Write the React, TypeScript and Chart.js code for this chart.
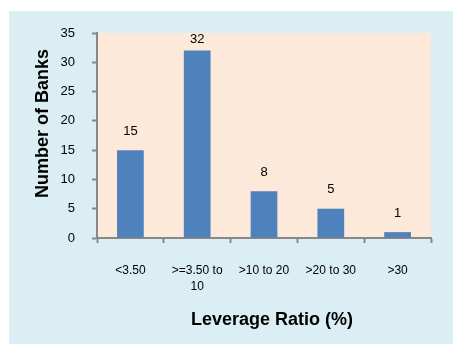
import React, { useEffect, useRef } from "react";
import { Chart, registerables } from "chart.js";

Chart.register(...registerables);

const categories: (string | string[])[] = ["<3.50", [">=3.50 to", "10"], ">10 to 20", ">20 to 30", ">30"];
const banks: number[] = [15, 32, 8, 5, 1];
const yTitle = "Number of Banks";
const xTitle = "Leverage Ratio (%)";
const yMax = 35;
const yStep = 5;

const FONT = "'Liberation Sans', Arial, sans-serif";

const decorPlugin = {
  id: "decor",
  beforeDraw(chart: any) {
    const { ctx, chartArea, width, height } = chart;
    ctx.save();
    ctx.fillStyle = "#ffffff";
    ctx.fillRect(0, 0, width, height);
    ctx.fillStyle = "#DAEEF3";
    ctx.fillRect(9, 11, width - 9, height - 11);
    ctx.fillStyle = "#FDE9D9";
    ctx.fillRect(chartArea.left, chartArea.top, chartArea.right - chartArea.left, chartArea.bottom - chartArea.top);
    ctx.restore();
  },
  afterDraw(chart: any) {
    const { ctx, chartArea } = chart;
    ctx.save();
    ctx.fillStyle = "#000";
    // data labels
    ctx.font = `13px ${FONT}`;
    ctx.textAlign = "center";
    ctx.textBaseline = "alphabetic";
    const meta = chart.getDatasetMeta(0);
    meta.data.forEach((bar: any, i: number) => {
      const y = Math.max(bar.y - 15.5, chartArea.top + 9.5);
      ctx.fillText(String(banks[i]), bar.x, y);
    });
    // axis titles
    ctx.font = `bold 18px ${FONT}`;
    ctx.fillText(xTitle, 272, 325);
    ctx.translate(48, 123.5);
    ctx.rotate(-Math.PI / 2);
    ctx.fillText(yTitle, 0, 0);
    ctx.restore();
  },
};

export default function App() {
  const ref = useRef<HTMLCanvasElement | null>(null);
  useEffect(() => {
    if (!ref.current) return;
    const chart = new Chart(ref.current, {
      type: "bar",
      data: {
        labels: categories,
        datasets: [
          {
            data: banks,
            backgroundColor: "#4F81BD",
            borderWidth: 0,
            categoryPercentage: 1,
            barPercentage: 0.4,
          },
        ],
      },
      options: {
        animation: false,
        responsive: false,
        layout: { padding: { left: 0, top: 33, right: 22, bottom: 0 } },
        plugins: { legend: { display: false }, tooltip: { enabled: false } },
        scales: {
          x: {
            grid: { drawOnChartArea: false, drawTicks: true, tickLength: 5, tickColor: "#888888", tickWidth: 2, offset: true },
            border: { color: "#888888", width: 2 },
            ticks: { color: "#000", font: { family: FONT, size: 12, lineHeight: 1.3 }, padding: 20, maxRotation: 0 },
            afterFit: (s: any) => {
              s.height = 106;
            },
          },
          y: {
            min: 0,
            max: yMax,
            ticks: { stepSize: yStep, color: "#000", font: { family: FONT, size: 13 }, padding: 17 },
            grid: { drawOnChartArea: false, drawTicks: true, tickLength: 5, tickColor: "#888888", tickWidth: 2 },
            border: { color: "#888888", width: 2 },
            afterFit: (s: any) => {
              s.width = 97;
            },
          },
        },
      },
      plugins: [decorPlugin],
    });
    return () => chart.destroy();
  }, []);
  return (
    <div style={{ position: "fixed", left: 0, top: 0, width: 453, height: 344 }}>
      <canvas ref={ref} width={453} height={344} style={{ display: "block" }} />
    </div>
  );
}
